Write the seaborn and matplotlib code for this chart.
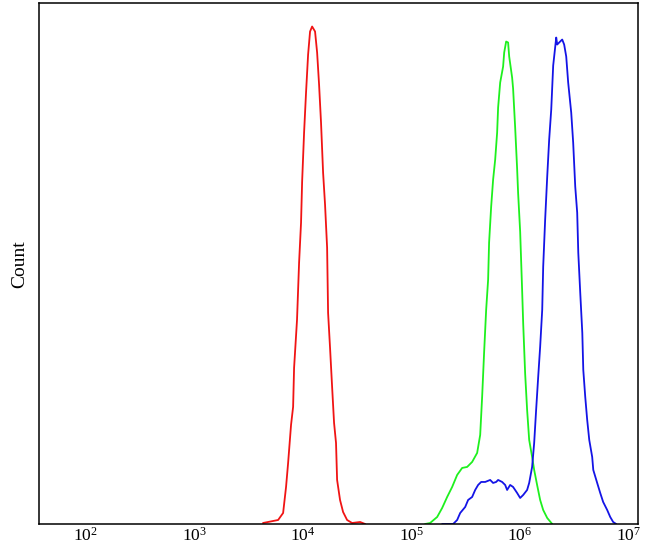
import numpy as np
import pandas as pd
import matplotlib
matplotlib.use("Agg")
import matplotlib.pyplot as plt
import seaborn as sns

# ---- data (log10 fluorescence intensity, count) ----
red_log = [3.634, 3.773, 3.819, 3.846, 3.865, 3.892, 3.911, 3.920, 3.947, 3.966,
           3.984, 3.994, 4.012, 4.030, 4.049, 4.067, 4.086, 4.113, 4.132, 4.150,
           4.168, 4.187, 4.205, 4.224, 4.233, 4.251, 4.269, 4.288, 4.306, 4.316,
           4.343, 4.371, 4.408, 4.454, 4.528, 4.574]
red_count = [1, 4, 11, 37, 61, 99, 117, 156, 204, 261,
             301, 342, 391, 431, 469, 492, 497, 492, 471, 439,
             401, 351, 319, 276, 211, 176, 139, 101, 81, 44,
             24, 12, 4, 1, 2, 0]

green_log = [5.126, 5.172, 5.237, 5.283, 5.329, 5.375, 5.421, 5.467, 5.513, 5.559,
             5.605, 5.633, 5.651, 5.669, 5.688, 5.706, 5.715, 5.734, 5.752, 5.771,
             5.789, 5.798, 5.817, 5.844, 5.854, 5.872, 5.890, 5.900, 5.927, 5.936,
             5.955, 5.973, 5.982, 6.001, 6.019, 6.029, 6.047, 6.065, 6.084, 6.111,
             6.130, 6.157, 6.185, 6.213, 6.250, 6.296]
green_count = [0, 1, 7, 16, 27, 37, 49, 56, 57, 62,
               71, 89, 127, 171, 214, 244, 281, 317, 344, 364,
               391, 416, 441, 457, 471, 482, 481, 467, 446, 435,
               396, 355, 331, 292, 234, 200, 150, 114, 84, 67,
               54, 39, 24, 14, 6, 0]

blue_log = [5.283, 5.384, 5.421, 5.449, 5.495, 5.522, 5.559, 5.587, 5.614, 5.642,
            5.679, 5.725, 5.752, 5.780, 5.798, 5.835, 5.863, 5.881, 5.909, 5.936,
            5.973, 6.001, 6.029, 6.065, 6.084, 6.111, 6.130, 6.148, 6.167, 6.185,
            6.204, 6.213, 6.231, 6.250, 6.268, 6.287, 6.305, 6.314, 6.333, 6.342,
            6.360, 6.388, 6.406, 6.425, 6.443, 6.471, 6.489, 6.508, 6.526, 6.536,
            6.554, 6.573, 6.582, 6.600, 6.618, 6.637, 6.664, 6.674, 6.710, 6.738,
            6.765, 6.802, 6.830, 6.857, 6.885]
blue_count = [0, 0, 4, 11, 17, 24, 27, 34, 39, 42,
              42, 44, 41, 42, 44, 42, 39, 34, 39, 37,
              31, 26, 29, 34, 41, 57, 81, 114, 147, 177,
              214, 257, 304, 347, 384, 414, 458, 467, 486, 479,
              481, 484, 479, 467, 441, 411, 381, 337, 311, 271,
              231, 191, 154, 127, 104, 84, 67, 54, 41, 31,
              22, 14, 7, 2, 0]

sample_names = ["red", "green", "blue"]
sample_colors = ["#f01414", "#1ef01e", "#1414e6"]
tick_exponents = [2, 3, 4, 5, 6, 7]

rows = []
for name, lg, ct in zip(sample_names, [red_log, green_log, blue_log],
                        [red_count, green_count, blue_count]):
    for l, c in zip(lg, ct):
        rows.append({"sample": name, "intensity": 10 ** l, "count": c})
df = pd.DataFrame(rows)

sns.set_theme(style="white")
plt.rcParams["font.family"] = ["Liberation Serif", "DejaVu Serif"]
plt.rcParams["mathtext.fontset"] = "custom"
plt.rcParams["mathtext.rm"] = "Liberation Serif"
plt.rcParams["mathtext.it"] = "Liberation Serif:italic"
plt.rcParams["mathtext.bf"] = "Liberation Serif:bold"

fig = plt.figure(figsize=(6.49, 5.46), dpi=100)
ax = fig.add_axes([0.0601, 0.0403, 0.9225, 0.9533])

sns.lineplot(data=df, x="intensity", y="count", hue="sample",
             palette=dict(zip(sample_names, sample_colors)),
             hue_order=sample_names, sort=False, estimator=None,
             linewidth=1.3, legend=False, ax=ax)

ax.set_xscale("log")
ax.set_xlim(10 ** 1.572, 10 ** 7.083)
ax.set_ylim(0, 520)
ax.set_xticks([10.0 ** e for e in tick_exponents])
ax.set_xticklabels([r"$10^{%d}$" % e for e in tick_exponents])
ax.xaxis.set_minor_locator(matplotlib.ticker.NullLocator())
ax.set_yticks([])
ax.tick_params(axis="x", length=0, pad=2, labelsize=12.5, colors="black")
ax.set_xlabel("")
ax.set_ylabel("Count", fontsize=14, color="black", labelpad=8)
for sp in ax.spines.values():
    sp.set_visible(True)
    sp.set_color("black")
    sp.set_linewidth(1.1)

fig.savefig("out.png", dpi=100, facecolor="white")
